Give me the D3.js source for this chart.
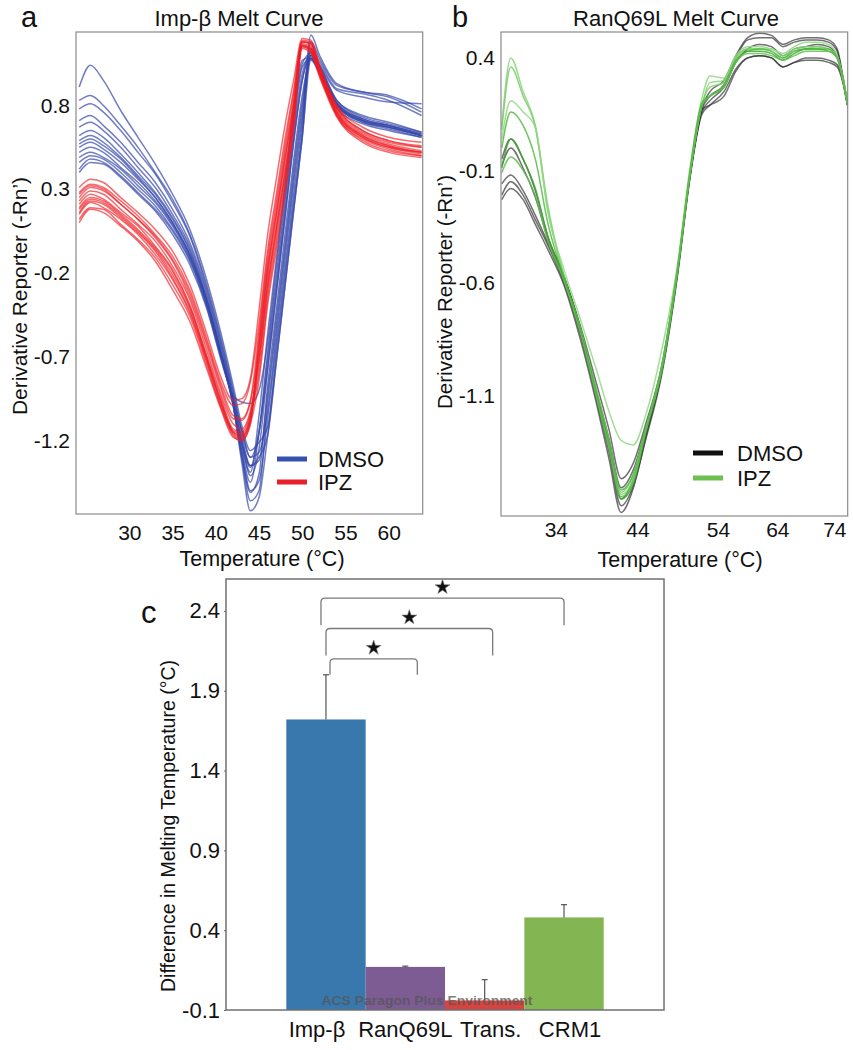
<!DOCTYPE html>
<html><head><meta charset="utf-8">
<script src="https://cdn.jsdelivr.net/npm/d3@7"></script>
<style>body{margin:0;background:#fff}</style>
</head><body><svg id="chart" width="853" height="1050" xmlns="http://www.w3.org/2000/svg"></svg>
<script>
// ---------------- DATA ----------------
// Panel a: Imp-beta melt curves (derivative reporter vs temperature)
const tempA = [24.2, 25.5, 27, 29, 31, 33, 35, 37, 39, 40.5, 42, 43, 44, 45, 46, 47, 48, 49, 50, 51, 52, 54, 57, 60, 63.8];
const dmsoA = [
  [0.91, 1.04, 0.95, 0.77, 0.61, 0.45, 0.27, 0.06, -0.25, -0.54, -0.87, -1.11, -1.26, -1.21, -1.12, -0.67, -0.22, 0.22, 0.65, 1.22, 1.10, 0.93, 0.88, 0.86, 0.78],
  [0.83, 0.86, 0.80, 0.68, 0.55, 0.40, 0.24, 0.03, -0.28, -0.57, -0.90, -1.14, -1.30, -1.27, -1.02, -0.57, -0.12, 0.33, 0.74, 1.18, 1.08, 0.92, 0.88, 0.85, 0.76],
  [0.78, 0.81, 0.76, 0.65, 0.52, 0.39, 0.22, 0.02, -0.30, -0.59, -0.92, -1.17, -1.35, -1.30, -1.17, -0.73, -0.28, 0.17, 0.61, 1.14, 1.06, 0.90, 0.87, 0.83, 0.74],
  [0.71, 0.74, 0.68, 0.58, 0.46, 0.34, 0.18, -0.02, -0.32, -0.61, -0.94, -1.21, -1.41, -1.25, -0.77, -0.32, 0.13, 0.58, 0.95, 1.12, 1.04, 0.89, 0.85, 0.82, 0.81],
  [0.67, 0.70, 0.65, 0.55, 0.43, 0.31, 0.15, -0.04, -0.34, -0.63, -0.96, -1.26, -1.50, -1.44, -1.07, -0.62, -0.18, 0.27, 0.70, 1.10, 1.01, 0.81, 0.71, 0.68, 0.63],
  [0.62, 0.65, 0.61, 0.51, 0.40, 0.28, 0.13, -0.06, -0.36, -0.65, -0.98, -1.30, -1.56, -1.50, -0.97, -0.52, -0.07, 0.37, 0.78, 1.08, 1.00, 0.80, 0.70, 0.67, 0.62],
  [0.59, 0.62, 0.58, 0.49, 0.38, 0.27, 0.12, -0.07, -0.37, -0.66, -0.99, -1.33, -1.62, -1.54, -1.17, -0.73, -0.28, 0.17, 0.61, 1.07, 0.99, 0.78, 0.69, 0.65, 0.61],
  [0.57, 0.60, 0.56, 0.48, 0.37, 0.25, 0.10, -0.09, -0.37, -0.66, -0.98, -1.29, -1.51, -1.40, -0.87, -0.42, 0.03, 0.47, 0.86, 1.08, 1.00, 0.80, 0.70, 0.66, 0.61],
  [0.55, 0.58, 0.54, 0.46, 0.36, 0.25, 0.10, -0.09, -0.38, -0.67, -0.99, -1.26, -1.45, -1.15, -0.67, -0.22, 0.23, 0.68, 1.03, 1.08, 1.01, 0.80, 0.71, 0.67, 0.62],
  [0.52, 0.55, 0.52, 0.43, 0.34, 0.23, 0.09, -0.10, -0.38, -0.67, -0.97, -1.21, -1.36, -1.15, -0.77, -0.32, 0.13, 0.58, 0.95, 1.08, 1.01, 0.81, 0.71, 0.67, 0.62],
  [0.49, 0.52, 0.49, 0.42, 0.32, 0.22, 0.08, -0.11, -0.39, -0.67, -0.98, -1.23, -1.39, -1.05, -0.56, -0.12, 0.33, 0.78, 1.07, 1.09, 1.02, 0.81, 0.72, 0.68, 0.62],
  [0.46, 0.50, 0.48, 0.40, 0.30, 0.20, 0.06, -0.12, -0.40, -0.68, -0.95, -1.14, -1.30, -1.15, -0.71, -0.27, 0.18, 0.63, 0.99, 1.10, 1.03, 0.83, 0.73, 0.69, 0.64],
  [0.42, 0.48, 0.46, 0.38, 0.28, 0.18, 0.05, -0.13, -0.41, -0.69, -0.93, -0.97, -0.98, -0.90, -0.61, -0.16, 0.28, 0.73, 1.05, 1.11, 1.04, 0.83, 0.74, 0.70, 0.64],
  [0.40, 0.46, 0.45, 0.37, 0.27, 0.17, 0.03, -0.15, -0.42, -0.70, -0.97, -1.20, -1.35, -1.32, -0.92, -0.47, -0.03, 0.42, 0.82, 1.10, 1.02, 0.82, 0.72, 0.68, 0.63]
];
const ipzA = [
  [0.31, 0.36, 0.34, 0.25, 0.16, 0.06, -0.07, -0.27, -0.57, -0.81, -0.96, -0.95, -0.83, -0.42, 0.03, 0.36, 0.68, 0.95, 1.20, 1.19, 1.04, 0.80, 0.67, 0.61, 0.58],
  [0.28, 0.33, 0.31, 0.23, 0.14, 0.03, -0.10, -0.30, -0.60, -0.84, -0.99, -0.98, -0.85, -0.50, -0.06, 0.27, 0.60, 0.89, 1.19, 1.18, 1.03, 0.79, 0.65, 0.59, 0.56],
  [0.27, 0.32, 0.30, 0.21, 0.12, 0.02, -0.12, -0.32, -0.62, -0.86, -1.05, -1.07, -0.96, -0.55, -0.10, 0.23, 0.56, 0.87, 1.18, 1.17, 1.02, 0.79, 0.65, 0.59, 0.55],
  [0.25, 0.31, 0.29, 0.21, 0.12, 0.01, -0.13, -0.34, -0.64, -0.88, -1.07, -1.08, -0.97, -0.63, -0.18, 0.15, 0.48, 0.80, 1.18, 1.17, 1.02, 0.78, 0.64, 0.58, 0.55],
  [0.23, 0.29, 0.27, 0.18, 0.09, -0.01, -0.16, -0.36, -0.67, -0.91, -1.10, -1.13, -1.02, -0.71, -0.27, 0.06, 0.39, 0.74, 1.18, 1.16, 1.01, 0.77, 0.63, 0.57, 0.53],
  [0.21, 0.27, 0.24, 0.16, 0.08, -0.04, -0.18, -0.39, -0.70, -0.93, -1.13, -1.15, -1.04, -0.80, -0.35, -0.02, 0.31, 0.68, 1.17, 1.15, 1.00, 0.76, 0.62, 0.56, 0.52],
  [0.19, 0.25, 0.23, 0.15, 0.06, -0.05, -0.19, -0.40, -0.71, -0.95, -1.14, -1.16, -1.05, -0.71, -0.27, 0.06, 0.39, 0.74, 1.16, 1.14, 1.00, 0.76, 0.62, 0.56, 0.52],
  [0.18, 0.24, 0.22, 0.14, 0.05, -0.06, -0.21, -0.41, -0.72, -0.96, -1.15, -1.17, -1.07, -0.67, -0.22, 0.10, 0.43, 0.77, 1.16, 1.14, 0.99, 0.75, 0.61, 0.55, 0.52],
  [0.16, 0.23, 0.21, 0.13, 0.04, -0.07, -0.23, -0.43, -0.73, -0.96, -1.15, -1.18, -1.07, -0.63, -0.18, 0.15, 0.48, 0.80, 1.15, 1.13, 0.99, 0.75, 0.61, 0.55, 0.51],
  [0.15, 0.22, 0.19, 0.12, 0.03, -0.09, -0.24, -0.44, -0.74, -0.98, -1.16, -1.19, -1.08, -0.75, -0.31, 0.02, 0.35, 0.71, 1.16, 1.13, 0.99, 0.74, 0.60, 0.54, 0.50],
  [0.12, 0.19, 0.18, 0.09, 0.00, -0.11, -0.27, -0.46, -0.76, -0.99, -1.17, -1.20, -1.10, -0.59, -0.14, 0.19, 0.52, 0.83, 1.15, 1.12, 0.98, 0.74, 0.59, 0.53, 0.50],
  [0.10, 0.18, 0.16, 0.08, -0.01, -0.13, -0.30, -0.49, -0.78, -1.00, -1.18, -1.20, -1.10, -0.84, -0.39, -0.06, 0.27, 0.65, 1.14, 1.11, 0.97, 0.73, 0.58, 0.52, 0.49]
];
const xTicksA = [30, 35, 40, 45, 50, 55, 60];
const yTicksA = [0.8, 0.3, -0.2, -0.7, -1.2];

// Panel b: RanQ69L melt curves
const tempB = [27.4, 28.5, 30, 31.5, 33, 35, 37, 39, 40.5, 42, 43.5, 45, 47, 49, 50.5, 52, 53, 55, 57, 59, 61, 63, 65, 67, 69, 71, 73, 74.5, 75.5, 76.3];
const dmsoB = [
  [-0.05, 0.04, -0.05, -0.19, -0.39, -0.57, -0.79, -1.05, -1.25, -1.47, -1.40, -1.23, -0.97, -0.53, -0.12, 0.18, 0.25, 0.30, 0.41, 0.49, 0.51, 0.50, 0.46, 0.48, 0.49, 0.49, 0.48, 0.44, 0.32, 0.20],
  [-0.08, 0.00, -0.09, -0.22, -0.40, -0.57, -0.80, -1.08, -1.29, -1.51, -1.43, -1.25, -0.98, -0.54, -0.13, 0.17, 0.23, 0.28, 0.40, 0.48, 0.49, 0.49, 0.45, 0.47, 0.48, 0.48, 0.47, 0.43, 0.31, 0.20],
  [-0.16, -0.12, -0.19, -0.30, -0.42, -0.59, -0.82, -1.10, -1.32, -1.56, -1.47, -1.28, -1.00, -0.55, -0.13, 0.16, 0.21, 0.27, 0.38, 0.44, 0.46, 0.45, 0.41, 0.44, 0.45, 0.46, 0.45, 0.41, 0.31, 0.19],
  [-0.21, -0.15, -0.21, -0.32, -0.43, -0.60, -0.83, -1.12, -1.35, -1.59, -1.50, -1.30, -1.01, -0.56, -0.14, 0.15, 0.19, 0.25, 0.35, 0.40, 0.41, 0.40, 0.36, 0.38, 0.40, 0.40, 0.39, 0.37, 0.30, 0.19],
  [-0.23, -0.18, -0.23, -0.34, -0.45, -0.61, -0.85, -1.14, -1.38, -1.62, -1.51, -1.29, -0.99, -0.54, -0.12, 0.17, 0.19, 0.23, 0.34, 0.40, 0.41, 0.40, 0.36, 0.38, 0.39, 0.39, 0.38, 0.36, 0.29, 0.19]
];
const ipzB = [
  [0.10, 0.40, 0.25, 0.10, -0.25, -0.57, -0.80, -1.08, -1.30, -1.54, -1.47, -1.26, -0.99, -0.54, -0.12, 0.19, 0.29, 0.30, 0.40, 0.44, 0.44, 0.44, 0.41, 0.44, 0.45, 0.45, 0.44, 0.41, 0.31, 0.20],
  [0.08, 0.36, 0.23, 0.09, -0.27, -0.57, -0.81, -1.09, -1.31, -1.53, -1.45, -1.25, -0.98, -0.53, -0.12, 0.19, 0.27, 0.29, 0.40, 0.44, 0.44, 0.43, 0.40, 0.43, 0.44, 0.45, 0.44, 0.40, 0.31, 0.20],
  [0.04, 0.21, 0.16, 0.09, -0.28, -0.54, -0.76, -0.99, -1.17, -1.30, -1.32, -1.19, -0.90, -0.51, -0.09, 0.22, 0.32, 0.31, 0.41, 0.45, 0.45, 0.44, 0.42, 0.45, 0.47, 0.47, 0.46, 0.41, 0.31, 0.20],
  [0.00, 0.16, 0.10, -0.05, -0.33, -0.58, -0.81, -1.09, -1.30, -1.52, -1.45, -1.25, -0.97, -0.53, -0.11, 0.20, 0.23, 0.28, 0.39, 0.43, 0.44, 0.43, 0.40, 0.43, 0.44, 0.44, 0.44, 0.40, 0.31, 0.20],
  [-0.09, 0.04, -0.05, -0.18, -0.39, -0.58, -0.81, -1.10, -1.32, -1.56, -1.49, -1.27, -0.99, -0.54, -0.12, 0.19, 0.23, 0.27, 0.38, 0.43, 0.43, 0.42, 0.39, 0.42, 0.44, 0.44, 0.43, 0.40, 0.30, 0.19],
  [-0.11, -0.04, -0.10, -0.21, -0.41, -0.59, -0.82, -1.11, -1.33, -1.55, -1.48, -1.26, -0.98, -0.53, -0.12, 0.19, 0.23, 0.27, 0.38, 0.42, 0.42, 0.41, 0.39, 0.41, 0.43, 0.43, 0.43, 0.40, 0.30, 0.19]
];
const xTicksB = [34, 44, 54, 64, 74];
const yTicksB = [0.4, -0.1, -0.6, -1.1];

// Panel c: difference in melting temperature
const categoriesC = ["Imp-β", "RanQ69L", "Trans.", "CRM1"];
const deltaTm = [1.72, 0.17, -0.04, 0.48];
const deltaErr = [0.28, 0.005, 0.13, 0.08];
const yTicksC = [-0.1, 0.4, 0.9, 1.4, 1.9, 2.4];
const sigPairs = [["Imp-β", "RanQ69L"], ["Imp-β", "Trans."], ["Imp-β", "CRM1"]];
const sigLevel = [2.10, 2.29, 2.48];
const sigLegEnd = [2.00, 2.12, 2.31];

// ---------------- DRAWING ----------------
const FONT = '"Liberation Sans", Arial, Helvetica, sans-serif';
const svg = d3.select("#chart").style("font-family", FONT);
const defs = svg.append("defs");

function styleAxis(sel, size) {
  sel.select(".domain").remove();
  sel.selectAll("text").attr("font-size", size).attr("font-family", FONT).attr("fill", "#111");
}
function fmt1(d) { return d.toFixed(1); }

// ===== Panel a =====
const A = {l: 76, r: 422.7, t: 32, b: 514};
const xA = d3.scaleLinear().domain([23.83, 63.93]).range([A.l, A.r]);
const yA = d3.scaleLinear().domain([-1.639, 1.2386]).range([A.b, A.t]);
defs.append("clipPath").attr("id", "clipA").append("rect")
  .attr("x", A.l).attr("y", A.t).attr("width", A.r - A.l).attr("height", A.b - A.t);
const lineA = d3.line().x((d, i) => xA(tempA[i])).y(d => yA(d)).curve(d3.curveMonotoneX);
const gA = svg.append("g");
const curvesA = gA.append("g").attr("clip-path", "url(#clipA)");
curvesA.selectAll("path.dmso").data(dmsoA).join("path").attr("class", "dmso")
  .attr("d", lineA).attr("fill", "none").attr("stroke", "#3547aa")
  .attr("stroke-opacity", 0.7).attr("stroke-width", 1.5);
curvesA.selectAll("path.ipz").data(ipzA).join("path").attr("class", "ipz")
  .attr("d", lineA).attr("fill", "none").attr("stroke", "#ee1d24")
  .attr("stroke-opacity", 0.65).attr("stroke-width", 1.5);
gA.append("rect").attr("x", A.l).attr("y", A.t).attr("width", A.r - A.l).attr("height", A.b - A.t)
  .attr("fill", "none").attr("stroke", "#8a8a8a").attr("stroke-width", 1.2);
gA.append("g").attr("transform", `translate(${A.l},0)`)
  .call(d3.axisLeft(yA).tickValues(yTicksA).tickFormat(fmt1).tickSize(0).tickPadding(6))
  .call(s => styleAxis(s, 21));
gA.append("g").attr("transform", `translate(0,${A.b})`)
  .call(d3.axisBottom(xA).tickValues(xTicksA).tickFormat(d => d).tickSize(0).tickPadding(11))
  .call(s => styleAxis(s, 21));
gA.append("text").attr("x", 239).attr("y", 26).attr("text-anchor", "middle")
  .attr("font-size", 22).attr("fill", "#111").text("Imp-β Melt Curve");
gA.append("text").attr("x", 262).attr("y", 566).attr("text-anchor", "middle")
  .attr("font-size", 21.5).attr("fill", "#111").text("Temperature (°C)");
gA.append("text").attr("transform", "translate(27,296) rotate(-90)").attr("text-anchor", "middle")
  .attr("font-size", 21).attr("fill", "#111").attr("textLength", 238).attr("lengthAdjust", "spacingAndGlyphs")
  .text("Derivative Reporter (-Rn’)");
gA.append("text").attr("x", 21).attr("y", 27).attr("font-size", 29).attr("fill", "#111").text("a");
// legend a
const legA = [{name: "DMSO", c: "#3550ad", y: 459}, {name: "IPZ", c: "#e8202a", y: 482}];
legA.forEach(d => {
  gA.append("line").attr("x1", 277).attr("x2", 307).attr("y1", d.y).attr("y2", d.y)
    .attr("stroke", d.c).attr("stroke-width", 5);
  gA.append("text").attr("x", 318).attr("y", d.y + 8).attr("font-size", 22).attr("fill", "#111").text(d.name);
});

// ===== Panel b =====
const B = {l: 501, r: 847.7, t: 32, b: 516};
const xB = d3.scaleLinear().domain([27.3, 34, 44, 54, 64, 74, 76.35])
  .range([501, 555.8, 637.5, 718, 777.3, 834.3, 847.7]);
const yB = d3.scaleLinear().domain([-1.636, 0.515]).range([B.b, B.t]);
defs.append("clipPath").attr("id", "clipB").append("rect")
  .attr("x", B.l).attr("y", B.t).attr("width", B.r - B.l).attr("height", B.b - B.t);
const lineB = d3.line().x((d, i) => xB(tempB[i])).y(d => yB(d)).curve(d3.curveMonotoneX);
const gB = svg.append("g");
const curvesB = gB.append("g").attr("clip-path", "url(#clipB)");
const greenShades = ["#8ad57c", "#7ccd6b", "#93d886", "#55bb43", "#3aa92c", "#62c150"];
curvesB.selectAll("path.dmso").data(dmsoB).join("path").attr("class", "dmso")
  .attr("d", lineB).attr("fill", "none").attr("stroke", "#333")
  .attr("stroke-opacity", 0.7).attr("stroke-width", 1.5);
curvesB.selectAll("path.ipz").data(ipzB).join("path").attr("class", "ipz")
  .attr("d", lineB).attr("fill", "none").attr("stroke", (d, i) => greenShades[i])
  .attr("stroke-opacity", 0.85).attr("stroke-width", 1.5);
gB.append("rect").attr("x", B.l).attr("y", B.t).attr("width", B.r - B.l).attr("height", B.b - B.t)
  .attr("fill", "none").attr("stroke", "#8a8a8a").attr("stroke-width", 1.2);
gB.append("g").attr("transform", `translate(${B.l},0)`)
  .call(d3.axisLeft(yB).tickValues(yTicksB).tickFormat(fmt1).tickSize(0).tickPadding(6))
  .call(s => styleAxis(s, 21));
gB.append("g").attr("transform", `translate(0,${B.b})`)
  .call(d3.axisBottom(xB).tickValues(xTicksB).tickFormat(d => d).tickSize(0).tickPadding(6))
  .call(s => styleAxis(s, 21));
gB.append("text").attr("x", 676).attr("y", 26).attr("text-anchor", "middle")
  .attr("font-size", 22).attr("fill", "#111").text("RanQ69L Melt Curve");
gB.append("text").attr("x", 680).attr("y", 567).attr("text-anchor", "middle")
  .attr("font-size", 21.5).attr("fill", "#111").text("Temperature (°C)");
gB.append("text").attr("transform", "translate(452,292) rotate(-90)").attr("text-anchor", "middle")
  .attr("font-size", 21).attr("fill", "#111").attr("textLength", 234).attr("lengthAdjust", "spacingAndGlyphs")
  .text("Derivative Reporter (-Rn’)");
gB.append("text").attr("x", 452).attr("y", 27).attr("font-size", 29).attr("fill", "#111").text("b");
const legB = [{name: "DMSO", c: "#111", y: 453}, {name: "IPZ", c: "#6cc04e", y: 478}];
legB.forEach(d => {
  gB.append("line").attr("x1", 693).attr("x2", 723).attr("y1", d.y).attr("y2", d.y)
    .attr("stroke", d.c).attr("stroke-width", 5);
  gB.append("text").attr("x", 737).attr("y", d.y + 8).attr("font-size", 22).attr("fill", "#111").text(d.name);
});

// ===== Panel c =====
const C = {l: 226, r: 664, t: 579, b: 1010};
const xC = d3.scaleBand().domain(categoriesC).range([C.l, C.r]).paddingInner(0).paddingOuter(0.76);
const yC = d3.scaleLinear().domain([-0.1, 2.6]).range([C.b, C.t]);
const barColors = ["#3878ad", "#7d5b93", "#d7443f", "#83b552"];
const gC = svg.append("g");
gC.selectAll("rect.bar").data(categoriesC).join("rect").attr("class", "bar")
  .attr("x", d => xC(d)).attr("width", xC.bandwidth())
  .attr("y", (d, i) => yC(deltaTm[i])).attr("height", (d, i) => yC(-0.1) - yC(deltaTm[i]))
  .attr("fill", (d, i) => barColors[i]);
// error bars (upper)
categoriesC.forEach((c, i) => {
  const cx = xC(c) + xC.bandwidth() / 2;
  const y0 = yC(deltaTm[i]), y1 = yC(deltaTm[i] + deltaErr[i]);
  gC.append("line").attr("x1", cx).attr("x2", cx).attr("y1", y0).attr("y2", y1)
    .attr("stroke", "#555").attr("stroke-width", 1.2);
  gC.append("line").attr("x1", cx - 3).attr("x2", cx + 3).attr("y1", y1).attr("y2", y1)
    .attr("stroke", "#555").attr("stroke-width", 1.2);
});
// frame
gC.append("rect").attr("x", C.l).attr("y", C.t).attr("width", C.r - C.l).attr("height", C.b - C.t)
  .attr("fill", "none").attr("stroke", "#707070").attr("stroke-width", 1.5);
gC.append("g").attr("transform", `translate(${C.l},0)`)
  .call(d3.axisLeft(yC).tickValues(yTicksC).tickFormat(fmt1).tickSize(2).tickPadding(4))
  .call(s => { styleAxis(s, 22); s.selectAll("line").attr("stroke", "#666"); });
const labelShift = [-9, 0, 6, 6];
gC.append("g").attr("transform", `translate(0,${C.b})`)
  .call(d3.axisBottom(xC).tickSize(0).tickPadding(11))
  .call(s => { styleAxis(s, 22); s.selectAll("text").attr("dx", (d, i) => labelShift[i]); });
// significance brackets
const leftOff = [4, 0, -5], rightOff = [12, 8, 0];
const star = d3.symbol().type(d3.symbolStar).size(70);
sigPairs.forEach((p, i) => {
  const xl = xC(p[0]) + xC.bandwidth() / 2 + leftOff[i];
  const xr = xC(p[1]) + xC.bandwidth() / 2 + rightOff[i];
  const yl = yC(sigLevel[i]), ye = yC(sigLegEnd[i]), r = 4;
  const path = `M${xl},${ye} L${xl},${yl + r} Q${xl},${yl} ${xl + r},${yl} L${xr - r},${yl} Q${xr},${yl} ${xr},${yl + r} L${xr},${ye}`;
  gC.append("path").attr("d", path).attr("fill", "none").attr("stroke", "#7a7a7a").attr("stroke-width", 1.3);
  gC.append("path").attr("d", star).attr("transform", `translate(${(xl + xr) / 2},${yl - 11})`)
    .attr("fill", "#111").attr("stroke", "#888").attr("stroke-width", 0.6);
});
gC.append("text").attr("transform", "translate(175,826) rotate(-90)").attr("text-anchor", "middle")
  .attr("font-size", 20).attr("fill", "#111").attr("textLength", 332).attr("lengthAdjust", "spacingAndGlyphs")
  .text("Difference in Melting Temperature (°C)");
gC.append("text").attr("x", 141).attr("y", 623).attr("font-size", 31).attr("fill", "#111").text("c");
gC.append("text").attr("x", 427).attr("y", 1005).attr("text-anchor", "middle")
  .attr("font-size", 12.5).attr("font-weight", "bold").attr("fill", "#555").attr("fill-opacity", 0.75)
  .attr("textLength", 211).attr("lengthAdjust", "spacingAndGlyphs").text("ACS Paragon Plus Environment");
</script></body></html>
